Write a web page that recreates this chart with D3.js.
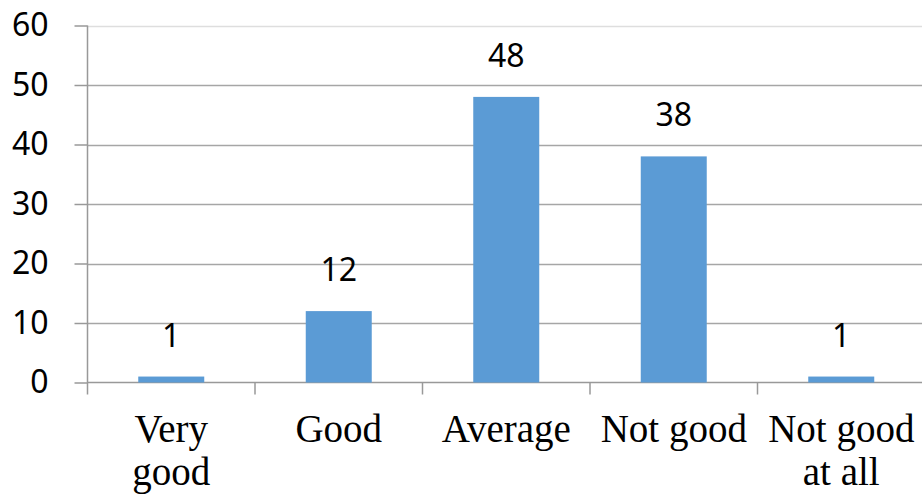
<!DOCTYPE html>
<html>
<head>
<meta charset="utf-8">
<script src="https://cdn.jsdelivr.net/npm/d3@7"></script>
<style>
  html, body { margin: 0; padding: 0; background: #fff; }
  svg { display: block; }
</style>
</head>
<body>
<svg id="chart" width="922" height="496"></svg>
<script>
// Survey responses per rating
const categories = [["Very", "good"], ["Good"], ["Average"], ["Not good"], ["Not good", "at all"]];
const values = [1, 12, 48, 38, 1];
const yTicks = [0, 10, 20, 30, 40, 50, 60];

const svg = d3.select("#chart");
const plotLeft = 87.5, plotRight = 925, plotTop = 25.5, plotBottom = 382.5;

const x = d3.scaleBand()
  .domain(d3.range(categories.length))
  .range([plotLeft, plotRight]);

const y = d3.scaleLinear().domain([0, 60]).range([plotBottom, plotTop]);

const gridColor = "#a6a6a6";

// horizontal gridlines
svg.append("g")
  .selectAll("line")
  .data(yTicks.filter(d => d > 0))
  .join("line")
  .attr("x1", plotLeft).attr("x2", 922)
  .attr("y1", d => Math.round(y(d)) + 0.5).attr("y2", d => Math.round(y(d)) + 0.5)
  .attr("stroke", d => d === 60 ? "#dedede" : gridColor)
  .attr("stroke-width", 1.5);

// y axis
const yAxis = svg.append("g")
  .attr("transform", `translate(${plotLeft},0)`)
  .call(d3.axisLeft(y).tickValues(yTicks).tickSize(13).tickPadding(26));
yAxis.select(".domain").attr("d", `M0,${plotTop}V${plotBottom + 12}`).attr("stroke", "#999").attr("stroke-width", 1.5);
yAxis.selectAll(".tick line").attr("stroke", "#999").attr("stroke-width", 1.5);
yAxis.selectAll(".tick text")
  .attr("font-family", "'Noto Sans', 'Open Sans', sans-serif")
  .attr("font-size", 32)
  .attr("fill", "#000");

// x axis baseline and category ticks
const xAxis = svg.append("g")
  .attr("transform", `translate(0,${plotBottom})`);
xAxis.append("line")
  .attr("x1", plotLeft).attr("x2", 922)
  .attr("stroke", "#999").attr("stroke-width", 1.5);
xAxis.selectAll("line.tk")
  .data(d3.range(1, categories.length))
  .join("line")
  .attr("class", "tk")
  .attr("x1", d => x(d)).attr("x2", d => x(d))
  .attr("y1", 0).attr("y2", 12)
  .attr("stroke", "#999").attr("stroke-width", 1.5);

// bars
const barW = x.bandwidth() * 0.394;
svg.append("g")
  .selectAll("rect")
  .data(values)
  .join("rect")
  .attr("x", (d, i) => x(i) + x.bandwidth() / 2 - barW / 2)
  .attr("width", barW)
  .attr("y", d => y(d))
  .attr("height", d => y(0) - y(d))
  .attr("fill", "#5b9bd5");

// value labels
svg.append("g")
  .selectAll("text")
  .data(values)
  .join("text")
  .attr("x", (d, i) => x(i) + x.bandwidth() / 2)
  .attr("y", d => y(d) - 30)
  .attr("text-anchor", "middle")
  .attr("font-family", "'Noto Sans', 'Open Sans', sans-serif")
  .attr("font-size", 32)
  .attr("fill", "#000")
  .text(d => d);

// category labels
const cat = svg.append("g")
  .selectAll("text")
  .data(categories)
  .join("text")
  .attr("x", (d, i) => x(i) + x.bandwidth() / 2)
  .attr("y", 442)
  .attr("text-anchor", "middle")
  .attr("font-family", "'Liberation Serif', 'Times New Roman', serif")
  .attr("font-size", 39)
  .attr("fill", "#000");
cat.selectAll("tspan")
  .data((d, i) => d.map(t => ({ t, i })))
  .join("tspan")
  .attr("x", d => x(d.i) + x.bandwidth() / 2)
  .attr("dy", (d, j) => j === 0 ? 0 : 43)
  .text(d => d.t);
</script>
</body>
</html>
